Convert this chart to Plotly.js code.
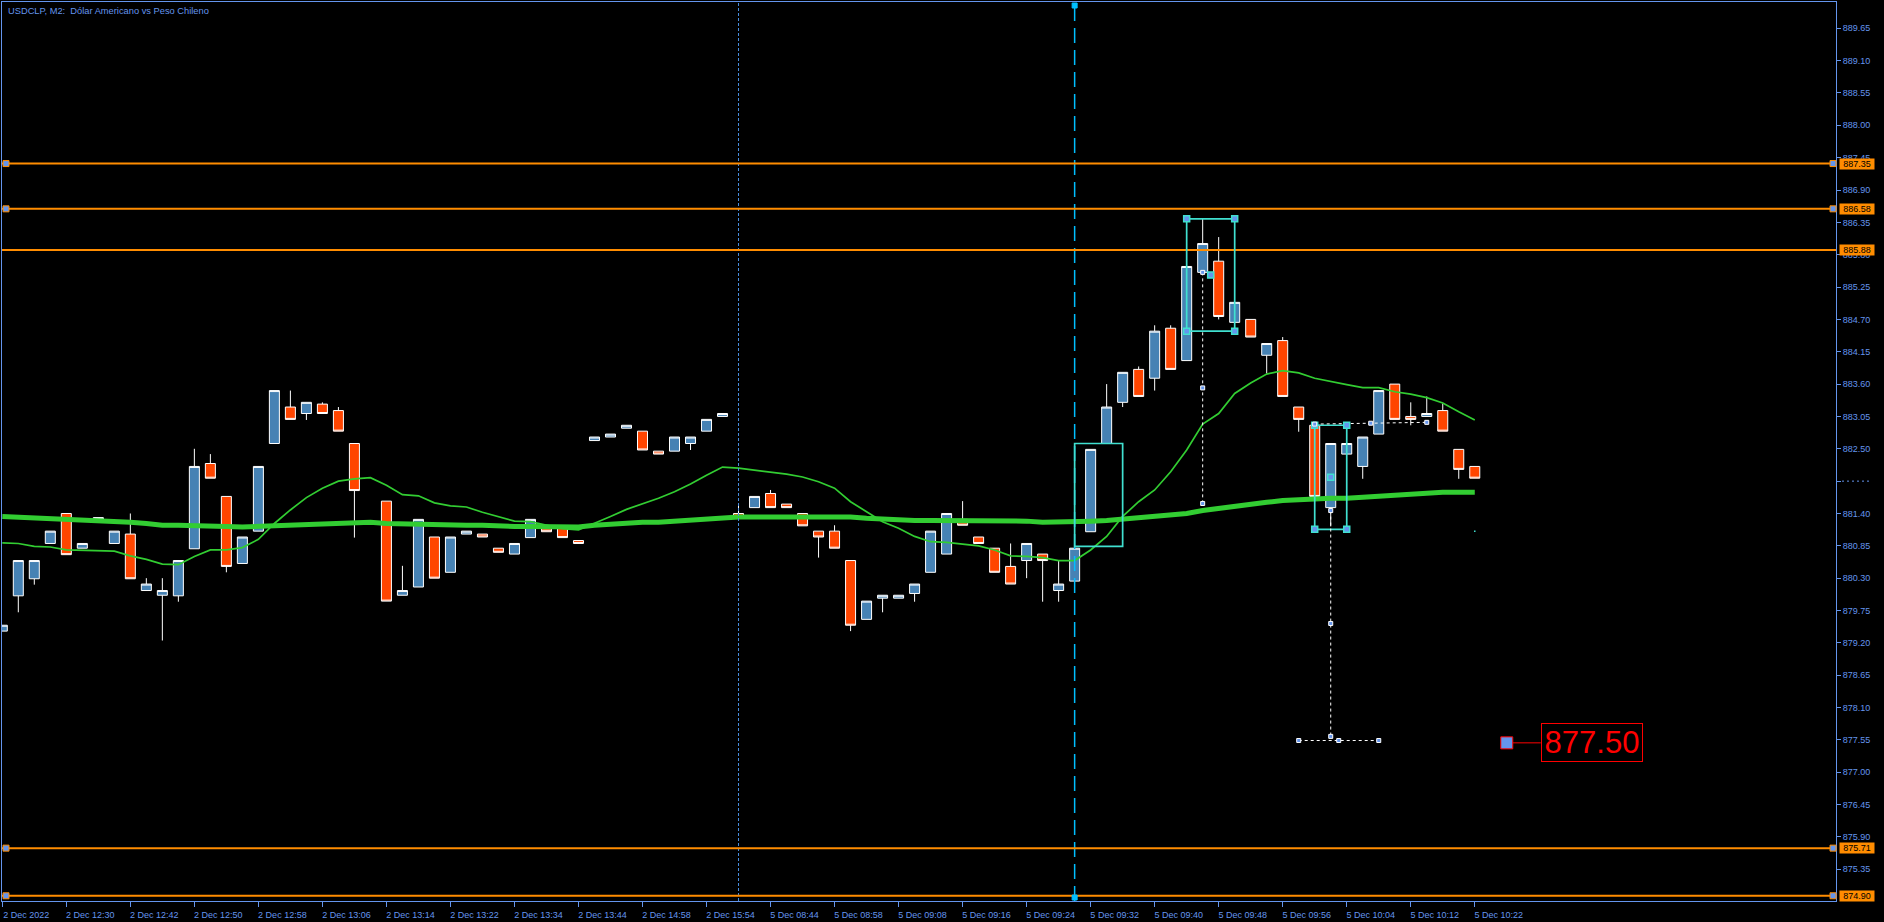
<!DOCTYPE html>
<html><head><meta charset="utf-8">
<script src="https://cdn.plot.ly/plotly-3.0.1.min.js"></script>
<style>html,body{margin:0;padding:0;background:#000;overflow:hidden}#chart{width:1884px;height:922px}</style>
</head><body><div id="chart"></div>
<script>
// ---- data ----
const tickLabels = ['2 Dec 2022','2 Dec 12:30','2 Dec 12:42','2 Dec 12:50','2 Dec 12:58','2 Dec 13:06','2 Dec 13:14','2 Dec 13:22','2 Dec 13:34','2 Dec 13:44','2 Dec 14:58','2 Dec 15:54','5 Dec 08:44','5 Dec 08:58','5 Dec 09:08','5 Dec 09:16','5 Dec 09:24','5 Dec 09:32','5 Dec 09:40','5 Dec 09:48','5 Dec 09:56','5 Dec 10:04','5 Dec 10:12','5 Dec 10:22'];

const openP = [879.40,880.00,880.29,880.89,881.40,880.81,881.28,880.89,881.05,880.09,
880.01,880.00,880.80,882.25,881.69,880.55,881.10,882.59,883.21,883.10,
883.26,883.15,882.59,881.26,881.61,880.01,880.15,881.00,880.40,881.05,
881.05,880.81,880.71,880.99,881.14,881.18,880.94,882.64,882.70,882.85,
882.80,882.46,882.46,882.59,882.80,883.05,881.40,881.50,881.74,881.56,
881.40,881.10,881.10,880.60,879.60,879.96,879.96,880.04,880.40,880.71,
881.30,881.00,880.81,880.50,880.60,880.71,880.09,880.25,881.09,882.59,
883.29,883.85,883.70,884.55,884.00,885.50,885.69,884.65,884.70,884.09,
884.34,883.21,882.90,881.50,882.41,882.20,882.75,883.60,883.05,883.05,
883.15,882.49,882.20];
const highP = [879.50,880.60,880.60,881.10,881.40,880.89,881.33,881.10,881.40,880.30,
880.30,880.60,882.50,882.41,881.69,881.00,882.20,883.49,883.49,883.29,
883.29,883.21,882.59,881.26,881.61,880.51,881.30,881.00,881.00,881.10,
881.05,880.81,880.89,881.30,881.14,881.18,880.94,882.70,882.75,882.90,
882.80,882.46,882.70,882.70,883.00,883.10,881.56,881.69,881.80,881.56,
881.40,881.10,881.20,880.60,879.91,880.01,880.01,880.20,881.10,881.40,
881.61,881.00,880.81,880.89,880.89,880.71,880.60,880.81,882.49,883.60,
883.80,883.90,884.60,884.60,885.60,886.41,886.10,884.99,884.70,884.29,
884.40,883.21,882.90,882.59,882.59,882.70,883.49,883.60,883.29,883.39,
883.27,882.49,882.20];
const lowP = [879.40,879.72,880.19,880.89,880.70,880.81,881.28,880.89,880.29,880.09,
879.24,879.90,880.80,882.00,880.40,880.55,881.10,882.59,883.00,882.99,
883.10,882.80,880.99,881.22,879.91,880.01,880.15,880.30,880.40,881.05,
881.00,880.74,880.71,880.99,881.09,880.99,880.89,882.64,882.70,882.85,
882.48,882.41,882.46,882.48,882.80,883.05,881.35,881.50,881.50,881.50,
881.19,880.65,880.81,879.40,879.60,879.72,879.96,879.90,880.40,880.71,
881.20,880.89,880.40,880.20,880.30,879.90,879.90,880.25,881.09,882.59,
883.21,883.39,883.49,883.85,884.00,885.50,884.70,884.65,884.40,883.78,
883.39,882.79,881.69,881.18,882.41,881.99,882.75,883.00,882.90,883.05,
882.80,881.99,882.00];
const closeP = [879.50,880.60,880.60,881.10,880.70,880.89,881.33,881.10,880.29,880.20,
880.09,880.60,882.20,882.00,880.50,881.00,882.20,883.49,883.00,883.29,
883.10,882.80,881.79,881.22,879.91,880.09,881.30,880.30,881.00,881.10,
881.00,880.74,880.89,881.30,881.09,880.99,880.89,882.70,882.75,882.90,
882.48,882.41,882.70,882.70,883.00,883.10,881.35,881.69,881.50,881.50,
881.19,881.00,880.81,879.50,879.91,880.01,880.01,880.20,881.10,881.40,
881.20,880.89,880.40,880.20,880.89,880.60,880.20,880.81,882.49,883.21,
883.80,883.39,884.50,883.85,885.60,885.99,884.75,884.99,884.40,884.29,
883.39,883.00,881.69,882.59,882.59,882.70,883.49,883.00,883.00,883.10,
882.80,882.15,882.00];

// moving averages
const maSlow = [881.35,881.34,881.32,881.30,881.30,881.28,881.27,881.27,881.25,881.23,
881.20,881.20,881.20,881.20,881.18,881.17,881.18,881.20,881.20,881.22,
881.23,881.25,881.25,881.25,881.23,881.22,881.22,881.20,881.20,881.20,
881.20,881.18,881.18,881.18,881.18,881.17,881.17,881.20,881.22,881.23,
881.25,881.25,881.27,881.28,881.32,881.34,881.34,881.34,881.34,881.35,
881.35,881.35,881.35,881.34,881.32,881.30,881.28,881.28,881.28,881.28,
881.28,881.28,881.28,881.27,881.27,881.25,881.25,881.25,881.27,881.28,
881.30,881.32,881.34,881.37,881.40,881.45,881.49,881.52,881.56,881.59,
881.62,881.64,881.65,881.66,881.66,881.68,881.69,881.71,881.73,881.74,
881.76,881.76,881.76];
const maFast = [880.90,880.89,880.84,880.83,880.78,880.77,880.77,880.76,880.68,880.62,
880.54,880.53,880.67,880.78,880.78,880.82,880.96,881.23,881.46,881.67,
881.83,881.95,881.99,882.01,881.88,881.72,881.70,881.58,881.53,881.51,
881.42,881.35,881.27,881.26,881.20,881.14,881.12,881.23,881.35,881.47,
881.56,881.66,881.77,881.90,882.05,882.19,882.17,882.14,882.11,882.07,
882.02,881.94,881.83,881.60,881.43,881.26,881.15,881.01,880.92,880.91,
880.88,880.85,880.78,880.68,880.67,880.65,880.60,880.60,880.78,881.01,
881.35,881.60,881.80,882.11,882.48,882.92,883.10,883.44,883.62,883.77,
883.83,883.79,883.70,883.64,883.59,883.54,883.54,883.47,883.43,883.37,
883.28,883.13,882.99];

const yTickLabels = ['889.65','889.10','888.55','888.00','887.45','886.90','886.35','885.80','885.25','884.70','884.15','883.60','883.05','882.50','881.95','881.40','880.85','880.30','879.75','879.20','878.65','878.10','877.55','877.00','876.45','875.90','875.35'];
const hiddenTick = '881.95';

const hLevels = [887.35, 886.58, 885.88, 875.71, 874.90];
const hSelected = [true, true, false, true, true];

// drawing objects (bar index, price)
const rects = [
  {x0:67, x1:70, y0:880.84, y1:882.59, sel:false},
  {x0:74, x1:77, y0:884.50, y1:886.41, sel:true},
  {x0:82, x1:84, y0:881.13, y1:882.90, sel:true}
];
const dotLines = [
  {x0:75, y0:885.50, x1:75, y1:881.57},
  {x0:82, y0:882.92, x1:89, y1:882.95},
  {x0:83, y0:881.45, x1:83, y1:877.61},
  {x0:81, y0:877.54, x1:86, y1:877.54}
];
const vDotBar = 46, vDashBar = 67;
const priceLabel = {bar:94, price:877.50, text:'877.50'};
const smallDot = {bar:92, price:881.10};

// ---- drawing ----
const BLUE = '#6495ed', ORANGE = '#ff8c00', TURQ = '#40e0d0', MA = '#32cd32';
const FONT = 'Liberation Sans, Arial, sans-serif';
const idx = openP.map((_, i) => i);

const traces = [
  {type:'candlestick', x:idx, open:openP, high:highP, low:lowP, close:closeP,
   increasing:{line:{color:'#ffffff', width:1}, fillcolor:'#4682b4'},
   decreasing:{line:{color:'#ffffff', width:1}, fillcolor:'#ff4500'},
   whiskerwidth:0, hoverinfo:'skip', showlegend:false},
  {type:'scatter', mode:'lines', x:idx, y:maSlow, line:{color:MA, width:5}, hoverinfo:'skip', showlegend:false},
  {type:'scatter', mode:'lines', x:idx, y:maFast, line:{color:MA, width:1.7}, hoverinfo:'skip', showlegend:false}
];

function handle(xref, x, y, size, fill, border, bw) {
  return {type:'rect', xref:xref, yref:'y', xsizemode:'pixel', ysizemode:'pixel',
    xanchor:x, yanchor:y, x0:-size/2, x1:size/2, y0:-size/2, y1:size/2,
    fillcolor:fill, line:{color:border, width:bw}, layer:'above'};
}

const shapes = [];
const annotations = [];

shapes.push({type:'line', xref:'x', yref:'paper', x0:vDotBar, x1:vDotBar, y0:0, y1:1,
  line:{color:'#4a8fe0', width:1, dash:'3px,2px'}, layer:'above'});
shapes.push({type:'line', xref:'x', yref:'paper', x0:vDashBar, x1:vDashBar, y0:0, y1:1,
  line:{color:'#00bfff', width:1.5, dash:'15px,7px'}, layer:'above'});

hLevels.forEach((lv) => {
  shapes.push({type:'line', xref:'paper', yref:'y', x0:0, x1:1, y0:lv, y1:lv,
    line:{color:ORANGE, width:2}, layer:'above'});
});
rects.forEach(r => {
  shapes.push({type:'rect', xref:'x', yref:'y', x0:r.x0, x1:r.x1, y0:r.y0, y1:r.y1,
    line:{color:TURQ, width:1.7}, fillcolor:'rgba(0,0,0,0)', layer:'above'});
});
dotLines.forEach(l => {
  shapes.push({type:'line', xref:'x', yref:'y', x0:l.x0, x1:l.x1, y0:l.y0, y1:l.y1,
    line:{color:'#ffffff', width:1, dash:'3px,3px'}, layer:'above'});
});
// handles
hLevels.forEach((lv, i) => {
  if (!hSelected[i]) return;
  shapes.push(Object.assign(handle('paper', 0, lv, 6, BLUE, ORANGE, 1), {x0:1, x1:7}));
  shapes.push(Object.assign(handle('paper', 1, lv, 6, BLUE, ORANGE, 1), {x0:-6, x1:0}));
});
rects.forEach(r => {
  if (!r.sel) return;
  [[r.x0,r.y0],[r.x1,r.y0],[r.x0,r.y1],[r.x1,r.y1],[(r.x0+r.x1)/2,(r.y0+r.y1)/2]].forEach(p =>
    shapes.push(handle('x', p[0], p[1], 6, BLUE, TURQ, 1.5)));
});
dotLines.forEach(l => {
  [[l.x0,l.y0],[(l.x0+l.x1)/2,(l.y0+l.y1)/2],[l.x1,l.y1]].forEach(p =>
    shapes.push(handle('x', p[0], p[1], 4, BLUE, '#ffffff', 1)));
});
shapes.push(Object.assign(handle('x', vDashBar, 0, 5, '#00bfff', '#00bfff', 1), {yref:'paper', yanchor:1, y0:-6, y1:-1}));
shapes.push(Object.assign(handle('x', vDashBar, 0, 5, '#00bfff', '#00bfff', 1), {yref:'paper', yanchor:0, y0:1, y1:6}));
// tiny cyan point
shapes.push(handle('x', smallDot.bar, smallDot.price, 1.5, TURQ, TURQ, 0));
// dotted marker in place of the hidden axis label
shapes.push({type:'line', xref:'paper', yref:'y', xsizemode:'pixel', xanchor:1, x0:6, x1:33,
  y0:Number(hiddenTick), y1:Number(hiddenTick), line:{color:BLUE, width:1, dash:'2px,3px'}, layer:'above'});

// price label
shapes.push({type:'line', xref:'x', yref:'y', xsizemode:'pixel', xanchor:priceLabel.bar, x0:6, x1:34,
  y0:priceLabel.price, y1:priceLabel.price, line:{color:'#ff0000', width:1}, layer:'above'});
shapes.push(handle('x', priceLabel.bar, priceLabel.price, 12, BLUE, '#ff0000', 1));
annotations.push({xref:'x', yref:'y', x:priceLabel.bar, y:priceLabel.price, xanchor:'left', yanchor:'middle',
  xshift:34, text:priceLabel.text, showarrow:false, font:{family:FONT, size:31, color:'#ff0000'},
  bgcolor:'#000000', bordercolor:'#ff0000', borderwidth:1, borderpad:0, width:100, height:37});

// right orange labels
hLevels.forEach(lv => {
  annotations.push({xref:'paper', yref:'y', x:1, y:lv, xanchor:'left', yanchor:'middle', xshift:3,
    text:lv.toFixed(2), showarrow:false, font:{family:FONT, size:9, color:'#000000'},
    bgcolor:ORANGE, borderpad:0, width:34, height:10});
});

// title
annotations.push({xref:'paper', yref:'paper', x:0, y:1, xanchor:'left', yanchor:'top', xshift:4, yshift:-2,
  text:'USDCLP, M2:  Dólar Americano vs Peso Chileno', showarrow:false,
  font:{family:FONT, size:9.3, color:BLUE}});

const yTickVals = yTickLabels.map(Number);
const layout = {
  width:1884, height:922,
  paper_bgcolor:'#000000', plot_bgcolor:'#000000',
  margin:{l:2, r:48, t:2, b:21},
  showlegend:false,
  boxgap:0.375, boxgroupgap:0,
  xaxis:{type:'linear', range:[-0.0187, 114.57], rangeslider:{visible:false},
    tickmode:'array', tickvals:tickLabels.map((_, i) => i*4), ticktext:tickLabels,
    ticks:'outside', ticklen:5, tickcolor:BLUE, tickwidth:1, ticklabelshift:24,
    tickfont:{family:FONT, size:9, color:BLUE},
    showgrid:false, zeroline:false, showline:true, linecolor:BLUE, linewidth:1, mirror:true,
    automargin:false, fixedrange:true},
  yaxis:{side:'right', range:[874.811, 890.097],
    tickmode:'array', tickvals:yTickVals, ticktext:yTickLabels.map(t => t === hiddenTick ? '' : t),
    ticks:'outside', ticklen:4, tickcolor:BLUE, tickwidth:1,
    tickfont:{family:FONT, size:9, color:BLUE},
    showgrid:false, zeroline:false, showline:true, linecolor:BLUE, linewidth:1, mirror:true,
    automargin:false, fixedrange:true},
  shapes:shapes, annotations:annotations
};
Plotly.newPlot('chart', traces, layout, {staticPlot:true, displayModeBar:false});
</script>
</body></html>
